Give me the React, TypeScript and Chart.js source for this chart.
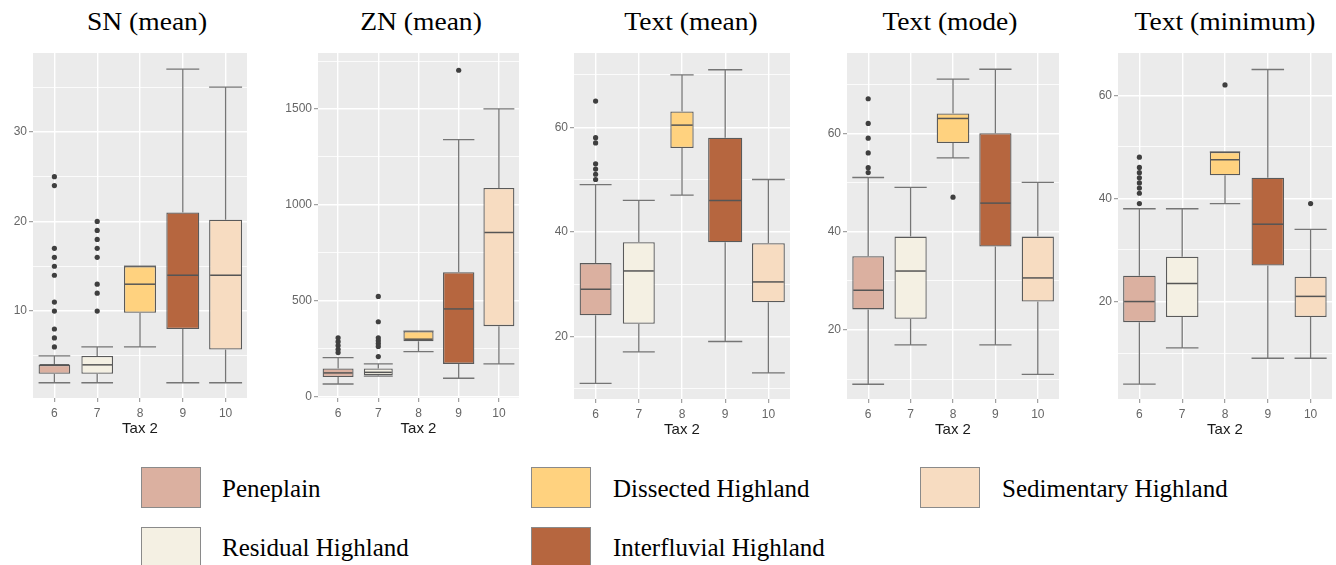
import React, { useEffect, useRef } from "react";
import { Chart, registerables } from "chart.js";

Chart.register(...registerables);

// ---------- shared categories ----------
const categories = ["6", "7", "8", "9", "10"];
const landforms = [
  "Peneplain",
  "Residual Highland",
  "Dissected Highland",
  "Interfluvial Highland",
  "Sedimentary Highland",
];
const boxColors = ["#DBB0A0", "#F4F0E3", "#FFD27F", "#B6663F", "#F7DCC1"];

// ---------- SN (mean) ----------
const snLow = [2, 2, 6, 2, 2];
const snQ1 = [3, 3, 9.8, 8, 5.7];
const snMedian = [4, 4, 13, 14, 14];
const snQ3 = [4, 5, 15, 21, 20.2];
const snHigh = [5, 6, 15, 37, 35];
const snOutliers = [
  [25, 24, 17, 16, 15, 14, 11, 10, 8, 7, 6],
  [20, 19, 18, 17, 16, 13, 12, 10],
  [],
  [],
  [],
];
const snMinorTicks = [5, 15, 25, 35];
const snMajorTicks = [10, 20, 30];

// ---------- ZN (mean) ----------
const znLow = [64, 105, 233, 94, 169];
const znQ1 = [101, 110, 287, 169, 366];
const znMedian = [122, 125, 298, 456, 855];
const znQ3 = [145, 145, 340, 648, 1087];
const znHigh = [202, 169, 340, 1340, 1500];
const znOutliers = [
  [305, 285, 265, 245, 228],
  [521, 389, 305, 290, 275, 260, 207],
  [],
  [1702],
  [],
];
const znMinorTicks = [250, 750, 1250, 1750];
const znMajorTicks = [0, 500, 1000, 1500];

// ---------- Text (mean) ----------
const tmeanLow = [11, 17, 47, 19, 13];
const tmeanQ1 = [24, 22.4, 56, 38, 26.5];
const tmeanMedian = [29, 32.5, 60.4, 46, 30.4];
const tmeanQ3 = [34, 38, 63, 58, 37.8];
const tmeanHigh = [49, 46, 70, 71, 50];
const tmeanOutliers = [[65, 58, 57, 53, 52, 51, 50], [], [], [], []];
const tmeanMinorTicks = [10, 30, 50, 70];
const tmeanMajorTicks = [20, 40, 60];

// ---------- Text (mode) ----------
const tmodeLow = [9, 17, 55, 17, 11];
const tmodeQ1 = [24.2, 22.3, 58, 37, 25.8];
const tmodeMedian = [28.1, 32, 63, 45.8, 30.6];
const tmodeQ3 = [35, 39, 64, 60, 39];
const tmodeHigh = [51, 49, 71, 73, 50];
const tmodeOutliers = [[67, 62, 59, 56, 53, 52], [], [47], [], []];
const tmodeMinorTicks = [10, 30, 50, 70];
const tmodeMajorTicks = [20, 40, 60];

// ---------- Text (minimum) ----------
const tminLow = [4, 11, 39, 9, 9];
const tminQ1 = [16, 17, 44.5, 27, 17];
const tminMedian = [20, 23.5, 47.5, 35, 21];
const tminQ3 = [25, 28.7, 49, 44, 24.8];
const tminHigh = [38, 38, 49, 65, 34];
const tminOutliers = [[48, 46, 45, 44, 43, 42, 41, 39], [], [62], [], [39]];
const tminMinorTicks = [10, 30, 50];
const tminMajorTicks = [20, 40, 60];

// ---------- layout / style config ----------
type Panel = {
  title: string;
  low: number[];
  q1: number[];
  median: number[];
  q3: number[];
  high: number[];
  outliers: number[][];
  minor: number[];
  major: number[];
  yMin: number;
  yMax: number;
  widths: number[];
  plot: { left: number; right: number; top: number; bottom: number };
  titleCenter: number;
};

const panels: Panel[] = [
  {
    title: "SN (mean)",
    low: snLow, q1: snQ1, median: snMedian, q3: snQ3, high: snHigh, outliers: snOutliers,
    minor: snMinorTicks, major: snMajorTicks, yMin: 0.3, yMax: 38.8,
    widths: [0.74, 0.74, 0.75, 0.77, 0.77],
    plot: { left: 33, right: 249, top: 53, bottom: 398 }, titleCenter: 147,
  },
  {
    title: "ZN (mean)",
    low: znLow, q1: znQ1, median: znMedian, q3: znQ3, high: znHigh, outliers: znOutliers,
    minor: znMinorTicks, major: znMajorTicks, yMin: -9, yMax: 1792,
    widths: [0.77, 0.72, 0.75, 0.78, 0.77],
    plot: { left: 318, right: 521, top: 53, bottom: 398 }, titleCenter: 421,
  },
  {
    title: "Text (mean)",
    low: tmeanLow, q1: tmeanQ1, median: tmeanMedian, q3: tmeanQ3, high: tmeanHigh, outliers: tmeanOutliers,
    minor: tmeanMinorTicks, major: tmeanMajorTicks, yMin: 8, yMax: 74.2,
    widths: [0.74, 0.74, 0.54, 0.79, 0.76],
    plot: { left: 574, right: 792, top: 53, bottom: 399 }, titleCenter: 691,
  },
  {
    title: "Text (mode)",
    low: tmodeLow, q1: tmodeQ1, median: tmodeMedian, q3: tmodeQ3, high: tmodeHigh, outliers: tmodeOutliers,
    minor: tmodeMinorTicks, major: tmodeMajorTicks, yMin: 6, yMax: 76.3,
    widths: [0.75, 0.76, 0.77, 0.76, 0.76],
    plot: { left: 847, right: 1061, top: 53, bottom: 399 }, titleCenter: 950,
  },
  {
    title: "Text (minimum)",
    low: tminLow, q1: tminQ1, median: tminMedian, q3: tminQ3, high: tminHigh, outliers: tminOutliers,
    minor: tminMinorTicks, major: tminMajorTicks, yMin: 1.1, yMax: 68.2,
    widths: [0.76, 0.76, 0.71, 0.76, 0.75],
    plot: { left: 1118, right: 1334, top: 53, bottom: 399 }, titleCenter: 1225,
  },
];

const Y_AXIS_W = 33;
const X_AXIS_H = 45;
const PAD_TOP = 10;
const PAD_RIGHT = 2;
const SANS = '"Liberation Sans", Arial, sans-serif';
const SERIF = '"Liberation Serif", "Times New Roman", serif';

function BoxPanel({ p }: { p: Panel }) {
  const ref = useRef<HTMLCanvasElement>(null);
  const width = Y_AXIS_W + (p.plot.right - p.plot.left) + PAD_RIGHT;
  const height = PAD_TOP + (p.plot.bottom - p.plot.top) + X_AXIS_H;

  useEffect(() => {
    const canvas = ref.current;
    if (!canvas) return;
    const allTicks = [...p.minor, ...p.major].sort((a, b) => a - b);
    const isMajor = (v: number) => p.major.includes(v);

    const bgPlugin = {
      id: "panelBg",
      beforeDraw(chart: any) {
        const { ctx, chartArea: a } = chart;
        ctx.save();
        ctx.fillStyle = "#EBEBEB";
        ctx.fillRect(a.left, a.top, a.right - a.left, a.bottom - a.top);
        ctx.restore();
      },
    };

    const boxPlugin = {
      id: "boxParts",
      beforeDatasetsDraw(chart: any) {
        const y = chart.scales.y;
        const ctx = chart.ctx;
        ctx.save();
        ctx.strokeStyle = "#757575";
        ctx.lineWidth = 1.3;
        categories.forEach((_, i) => {
          const el = chart.getDatasetMeta(i).data[i];
          if (!el) return;
          const x = el.x;
          const hw = el.width / 2;
          const yl = y.getPixelForValue(p.low[i]);
          const y1 = y.getPixelForValue(p.q1[i]);
          const y3 = y.getPixelForValue(p.q3[i]);
          const yh = y.getPixelForValue(p.high[i]);
          ctx.beginPath();
          ctx.moveTo(x, yh);
          ctx.lineTo(x, y3);
          ctx.moveTo(x, y1);
          ctx.lineTo(x, yl);
          ctx.moveTo(x - hw, yh);
          ctx.lineTo(x + hw, yh);
          ctx.moveTo(x - hw, yl);
          ctx.lineTo(x + hw, yl);
          ctx.stroke();
        });
        ctx.restore();
      },
      afterDatasetsDraw(chart: any) {
        const y = chart.scales.y;
        const ctx = chart.ctx;
        ctx.save();
        ctx.strokeStyle = "#555555";
        ctx.lineWidth = 1.5;
        categories.forEach((_, i) => {
          const el = chart.getDatasetMeta(i).data[i];
          if (!el) return;
          const hw = el.width / 2;
          const ym = y.getPixelForValue(p.median[i]);
          ctx.beginPath();
          ctx.moveTo(el.x - hw + 1, ym);
          ctx.lineTo(el.x + hw - 1, ym);
          ctx.stroke();
        });
        ctx.restore();
      },
    };

    const barSets = categories.map((_, i) => ({
      type: "bar" as const,
      label: landforms[i],
      data: categories.map((__, j) => (j === i ? [p.q1[i], p.q3[i]] : null)),
      backgroundColor: boxColors[i],
      borderColor: "#5a5a5a",
      borderWidth: 1.3,
      borderSkipped: false,
      grouped: false,
      barPercentage: p.widths[i],
      categoryPercentage: 1,
    }));

    const outlierData: { x: string; y: number }[] = [];
    p.outliers.forEach((vals, i) =>
      vals.forEach((v) => outlierData.push({ x: categories[i], y: v }))
    );

    const chart = new Chart(canvas, {
      type: "bar",
      data: {
        labels: categories,
        datasets: [
          ...barSets,
          {
            type: "line" as const,
            label: "outliers",
            data: outlierData as any,
            showLine: false,
            pointRadius: 2.6,
            pointBackgroundColor: "#3f3f3f",
            pointBorderWidth: 0,
            borderColor: "#3f3f3f",
          },
        ] as any,
      },
      options: {
        animation: false,
        responsive: false,
        maintainAspectRatio: false,
        layout: { padding: { top: PAD_TOP, right: PAD_RIGHT, left: 0, bottom: 0 } },
        plugins: {
          legend: { display: false },
          tooltip: { enabled: false },
          title: { display: false },
        },
        scales: {
          x: {
            type: "category",
            offset: true,
            grid: {
              offset: false,
              color: "#FFFFFF",
              lineWidth: 1.4,
              drawTicks: true,
              tickLength: 4,
              tickColor: "#8c8c8c",
              tickWidth: 1,
            },
            border: { display: false },
            ticks: {
              color: "#666666",
              font: { family: SANS, size: 12 },
              padding: 4,
              autoSkip: false,
              maxRotation: 0,
            },
            title: {
              display: true,
              text: "Tax 2",
              color: "#1a1a1a",
              font: { family: SANS, size: 15 },
              padding: { top: 0, bottom: 5 },
            },
            afterFit: (s: any) => {
              s.height = X_AXIS_H;
            },
          },
          y: {
            type: "linear",
            min: p.yMin,
            max: p.yMax,
            afterBuildTicks: (s: any) => {
              s.ticks = allTicks.map((v) => ({ value: v }));
            },
            ticks: {
              callback: (v: any) => (isMajor(Number(v)) ? String(v) : ""),
              color: "#666666",
              font: { family: SANS, size: 12 },
              padding: 2,
              autoSkip: false,
            },
            grid: {
              color: "#FFFFFF",
              lineWidth: (c: any) => (c.tick && isMajor(c.tick.value) ? 1.4 : 0.8),
              drawTicks: true,
              tickLength: 4,
              tickColor: (c: any) =>
                c.tick && isMajor(c.tick.value) ? "#8c8c8c" : "rgba(0,0,0,0)",
              tickWidth: 1,
            },
            border: { display: false },
            afterFit: (s: any) => {
              s.width = Y_AXIS_W;
            },
          },
        },
      } as any,
      plugins: [bgPlugin, boxPlugin],
    });
    return () => chart.destroy();
  }, [p]);

  return (
    <>
      <div
        style={{
          position: "absolute",
          left: p.titleCenter - 150,
          top: 7,
          width: 300,
          textAlign: "center",
          fontFamily: SERIF,
          fontSize: 26,
          lineHeight: "30px",
          color: "#000",
          transform: "scaleX(1.06)",
          transformOrigin: "center",
        }}
      >
        {p.title}
      </div>
      <canvas
        ref={ref}
        width={width}
        height={height}
        style={{
          position: "absolute",
          left: p.plot.left - Y_AXIS_W,
          top: p.plot.top - PAD_TOP,
          width,
          height,
        }}
      />
    </>
  );
}

const legendItems = [
  { idx: 0, boxLeft: 141, textLeft: 222, row: 0 },
  { idx: 2, boxLeft: 531, textLeft: 613, row: 0 },
  { idx: 4, boxLeft: 920, textLeft: 1002, row: 0 },
  { idx: 1, boxLeft: 141, textLeft: 222, row: 1 },
  { idx: 3, boxLeft: 531, textLeft: 613, row: 1 },
];
const legendRowTop = [467, 527];
const legendRowBaseline = [498, 557];

export default function App() {
  return (
    <div
      style={{
        position: "absolute",
        left: 0,
        top: 0,
        width: 1336,
        height: 565,
        background: "#FFFFFF",
        overflow: "hidden",
      }}
    >
      {panels.map((p) => (
        <BoxPanel key={p.title} p={p} />
      ))}
      {legendItems.map((it) => (
        <React.Fragment key={landforms[it.idx]}>
          <div
            style={{
              position: "absolute",
              left: it.boxLeft,
              top: legendRowTop[it.row],
              width: 60,
              height: 41,
              boxSizing: "border-box",
              background: boxColors[it.idx],
              border: "1.5px solid #8a8a8a",
            }}
          />
          <div
            style={{
              position: "absolute",
              left: it.textLeft,
              top: legendRowBaseline[it.row] - 24,
              fontFamily: SERIF,
              fontSize: 25,
              lineHeight: "30px",
              color: "#000",
              whiteSpace: "nowrap",
            }}
          >
            {landforms[it.idx]}
          </div>
        </React.Fragment>
      ))}
    </div>
  );
}
